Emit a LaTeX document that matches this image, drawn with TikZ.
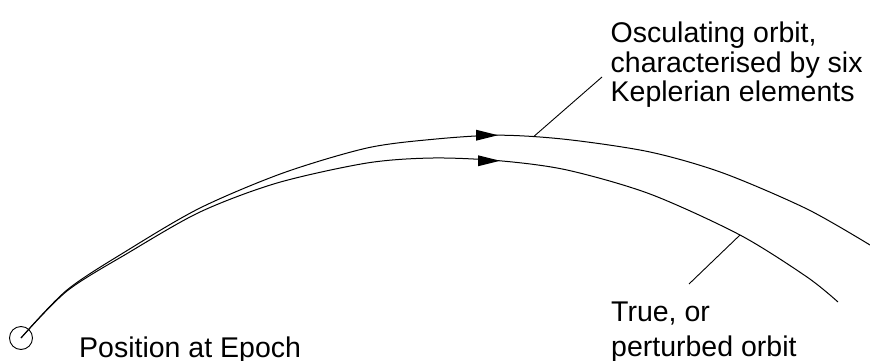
\documentclass[tikz,border=0pt]{standalone}
\usepackage{fontspec}
\setmainfont{Liberation Sans}
\begin{document}
\begin{tikzpicture}[x=1pt,y=-1pt,
  orbit/.style={line width=1pt, line join=round},
  leader/.style={line width=0.9pt},
  arrowhead/.style={fill=black},
  lbl/.style={inner sep=0pt, align=left, font=\fontsize{28.5}{29.5}\selectfont},
  lblwide/.style={inner sep=0pt, align=left, font=\fontsize{28.5}{34.5}\selectfont}]
\useasboundingbox (0,0) rectangle (870,361);

% position at epoch
\coordinate (epoch) at (21,338);
\node[draw, circle, line width=0.9pt, minimum size=23pt, inner sep=0pt] (epochmark) at (epoch) {};

% osculating orbit
\coordinate (oscend) at (870,245);
\coordinate (osctip) at (498,135.2);
\coordinate (oscfoot) at (534,136.3);
\draw[orbit] plot[smooth, tension=0.5] coordinates {(epoch) (67,290) (128,250) (200,208) (283,173) (367,148) (434,139.2) (500,135.2) (567,139.5) (650,152) (723,173) (807,209) (oscend)};
\fill[arrowhead] (osctip) -- ++(-22,-5.5) -- ++(0,11) -- cycle;

% true orbit
\coordinate (trueend) at (838,302);
\coordinate (truetip) at (500,160.8);
\coordinate (truefoot) at (740,235);
\draw[orbit] plot[smooth, tension=0.5] coordinates {(epoch) (67,291) (128,253) (200,212) (277,183) (367,163) (433,158) (500,160.8) (567,170) (650,194) (740,235) (807,277) (trueend)};
\fill[arrowhead] (truetip) -- ++(-22,-5.5) -- ++(0,11) -- cycle;

% labels
\node[lbl, anchor=base west] (epochlbl) at (79,357) {Position at Epoch};
\node[lbl, anchor=north west] (osclbl) at (610.5,22) {Osculating orbit,\\characterised by six\\Keplerian elements};
\node[lblwide, anchor=north west] (truelbl) at (611,302) {True, or\\perturbed orbit};

\coordinate (oscleadend) at (602,77);
\coordinate (trueleadend) at (689,284);
\draw[leader] (oscfoot) -- (oscleadend);
\draw[leader] (truefoot) -- (trueleadend);
\end{tikzpicture}
\end{document}
